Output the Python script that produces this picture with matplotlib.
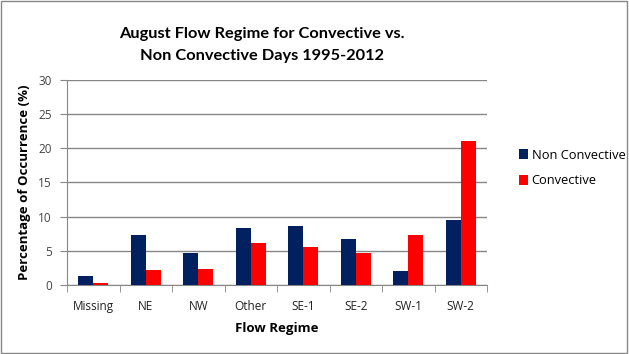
import matplotlib.pyplot as plt
import numpy as np

# categories and percentages
regimes = ['Missing', 'NE', 'NW', 'Other', 'SE-1', 'SE-2', 'SW-1', 'SW-2']
non_convective = [1.3, 7.3, 4.7, 8.3, 8.6, 6.7, 2.0, 9.5]
convective = [0.3, 2.2, 2.3, 6.1, 5.6, 4.7, 7.3, 21.1]

plt.rcParams['font.family'] = ['Open Sans', 'DejaVu Sans']

fig = plt.figure(figsize=(6.29, 3.54), dpi=100)
# plot area in pixels: left 67, right 487, top 80, bottom 285
ax = fig.add_axes([67/629, 1 - 285/354, 420/629, 205/354])

x = np.arange(len(regimes))
w = 0.29
ax.bar(x - w/2, non_convective, w, color='#002060', label='Non Convective', zorder=3)
ax.bar(x + w/2, convective, w, color='#ff0000', label='Convective', zorder=3)

ax.set_xlim(-0.5, len(regimes) - 0.5)
ax.set_ylim(0, 30)
ax.set_yticks(range(0, 31, 5))
ax.yaxis.grid(True, color='#878787', linewidth=1, zorder=0)
ax.set_xticks(x)
ax.set_xticklabels(regimes, fontsize=8.5)
ax.set_xticks(np.arange(-0.5, len(regimes), 1), minor=True)
ax.tick_params(axis='x', which='major', length=0, pad=11, labelcolor='#222222')
ax.tick_params(axis='x', which='minor', length=5, color='#878787')
ax.tick_params(axis='y', length=5, color='#878787', labelsize=8.5, labelcolor='#444444', pad=6)

for s in ['top', 'right']:
    ax.spines[s].set_visible(False)
for s in ['left', 'bottom']:
    ax.spines[s].set_color('#878787')

ax.set_xlabel('Flow Regime', fontsize=9.5, fontweight='bold', labelpad=6)
ax.set_ylabel('Percentage of Occurrence (%)', fontsize=9.5, fontweight='bold', labelpad=5)

fig.text(262/629, 1 - 45/354, 'August Flow Regime for Convective vs.\nNon Convective Days 1995-2012',
         ha='center', va='center', fontsize=11.8, fontweight='bold', linespacing=1.75,
         family=['Lato', 'DejaVu Sans'])

fig.legend(loc='center left', bbox_to_anchor=(507/629, 1 - 168/354), frameon=False,
           fontsize=9.3, handlelength=0.75, handleheight=0.75, handletextpad=0.25,
           labelspacing=1.0)

# chart border
fig.patches.append(plt.Rectangle((0.002, 0.003), 0.995, 0.994, transform=fig.transFigure,
                                 fill=False, edgecolor='#878787', linewidth=1))

fig.savefig('out.png', dpi=100)
